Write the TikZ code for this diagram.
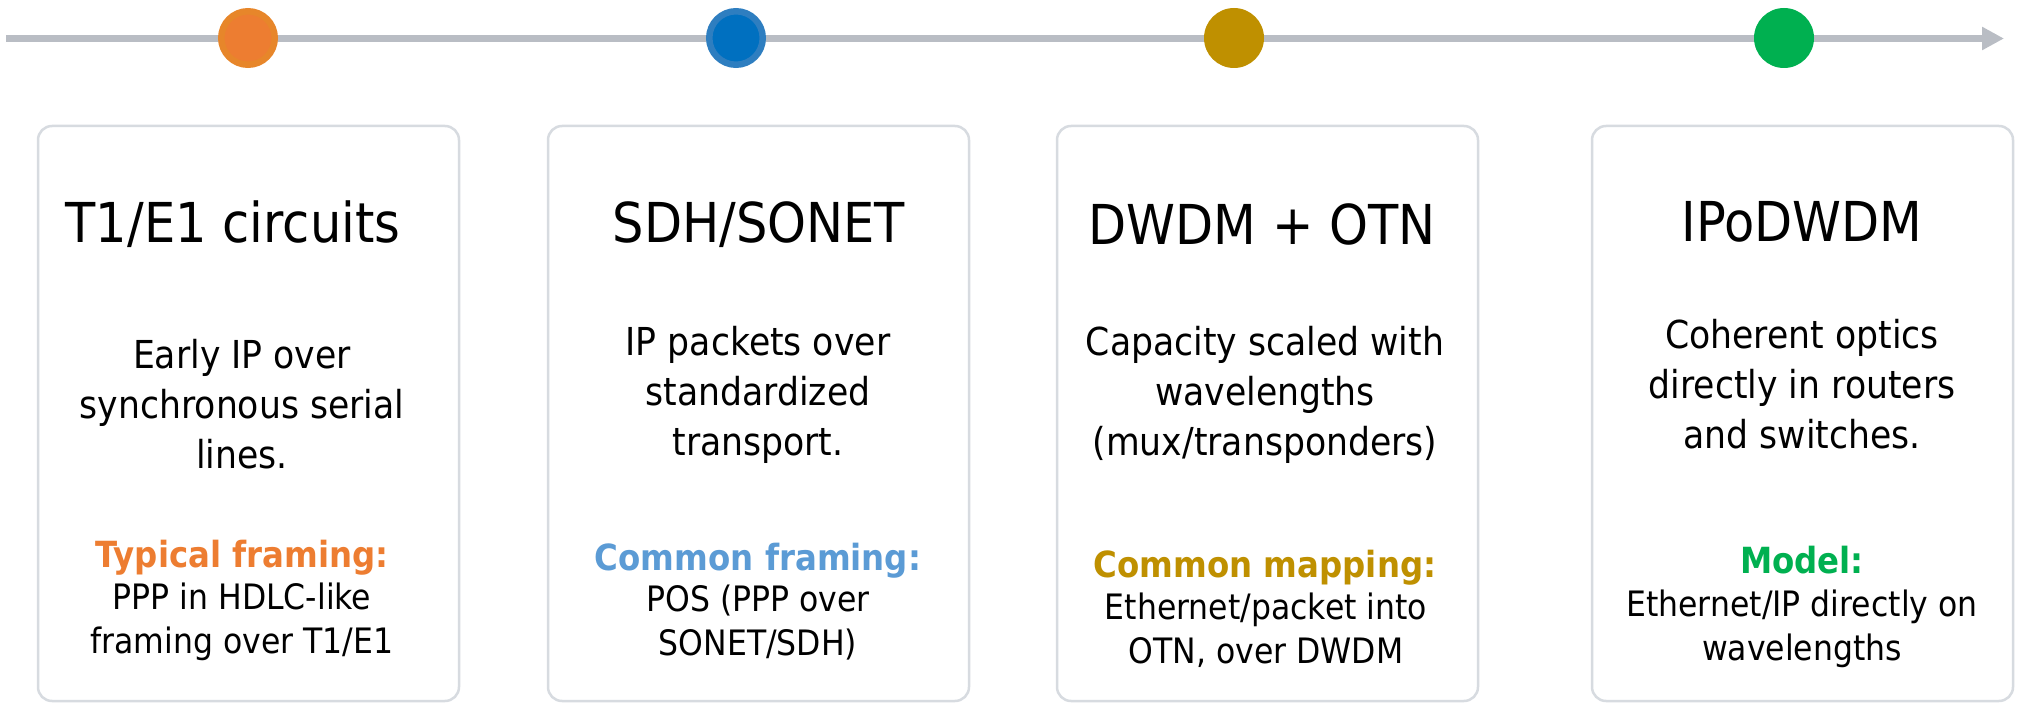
\documentclass[tikz,border=0pt]{standalone}
\usepackage{fontspec}
\setmainfont[FakeStretch=0.9]{DejaVu Sans}
\usetikzlibrary{arrows.meta}
\definecolor{tlgray}{HTML}{B9BDC4}
\definecolor{boxgray}{HTML}{D7DBE0}
\definecolor{corange}{HTML}{ED7D31}
\definecolor{corangering}{HTML}{E7862A}
\definecolor{cblue}{HTML}{0070C0}
\definecolor{cbluering}{HTML}{2E7EC0}
\definecolor{clightblue}{HTML}{5B9BD5}
\definecolor{cgold}{HTML}{BF9000}
\definecolor{cgreen}{HTML}{00B050}
\begin{document}
\begin{tikzpicture}[x=1pt,y=-1pt,
  timeline/.style={line width=7pt,draw=tlgray,-{Triangle[length=22pt,width=22pt]}},
  dot/.style={circle,inner sep=0pt,minimum size=60pt},
  ringdot/.style={circle,inner sep=0pt,minimum size=53.5pt,line width=6.5pt},
  card/.style={draw=boxgray,line width=2.5pt,rounded corners=14pt,fill=white},
  title/.style={anchor=base,inner sep=0pt,font=\fontsize{55pt}{60pt}\selectfont},
  body/.style={anchor=base,inner sep=0pt,align=center,font=\fontsize{38.5pt}{50pt}\selectfont},
  label/.style={anchor=base,inner sep=0pt,font=\fontsize{36pt}{43.5pt}\selectfont\bfseries},
  detail/.style={anchor=base,inner sep=0pt,align=center,font=\fontsize{35pt}{43.5pt}\selectfont}]
\useasboundingbox (0,0) rectangle (2022,703);
% cards
\path[card] (38,126) rectangle (459,701);
\path[card] (548,126) rectangle (969,701);
\path[card] (1057,126) rectangle (1478,701);
\path[card] (1592,126) rectangle (2013,701);
% timeline
\coordinate (tlstart) at (6,38.5);
\coordinate (tlend) at (2004,38.5);
\draw[timeline] (tlstart) -- (tlend);
\node[ringdot,fill=corange,draw=corangering] (d1) at (248,38) {};
\node[ringdot,fill=cblue,draw=cbluering] (d2) at (736,38) {};
\node[dot,fill=cgold] (d3) at (1234,38) {};
\node[dot,fill=cgreen] (d4) at (1784,38) {};
% card 1 (multi-line nodes: base = baseline of last line)
\node[title] (t1) at (233,243) {T1/E1 circuits};
\node[body] (b1) at (242,468) {Early IP over\\synchronous serial\\lines.};
\node[label,text=corange] (l1) at (242,567) {Typical framing:};
\node[detail] (e1) at (242,653) {PPP in HDLC-like\\framing over T1/E1};
% card 2
\node[title] (t2) at (759,243) {SDH/SONET};
\node[body] (b2) at (758,455) {IP packets over\\standardized\\transport.};
\node[label,text=clightblue] (l2) at (758,570) {Common framing:};
\node[detail] (e2) at (758,655) {POS (PPP over\\SONET/SDH)};
% card 3
\node[title] (t3) at (1262,245) {DWDM + OTN};
\node[body] (b3) at (1265,455) {Capacity scaled with\\wavelengths\\(mux/transponders)};
\node[label,text=cgold] (l3) at (1265,577) {Common mapping:};
\node[detail] (e3) at (1266,663) {Ethernet/packet into\\OTN, over DWDM};
% card 4
\node[title] (t4) at (1802,242) {IPoDWDM};
\node[body] (b4) at (1802,448) {Coherent optics\\directly in routers\\and switches.};
\node[label,text=cgreen] (l4) at (1802,573) {Model:};
\node[detail] (e4) at (1802,660) {Ethernet/IP directly on\\wavelengths};
\end{tikzpicture}
\end{document}
